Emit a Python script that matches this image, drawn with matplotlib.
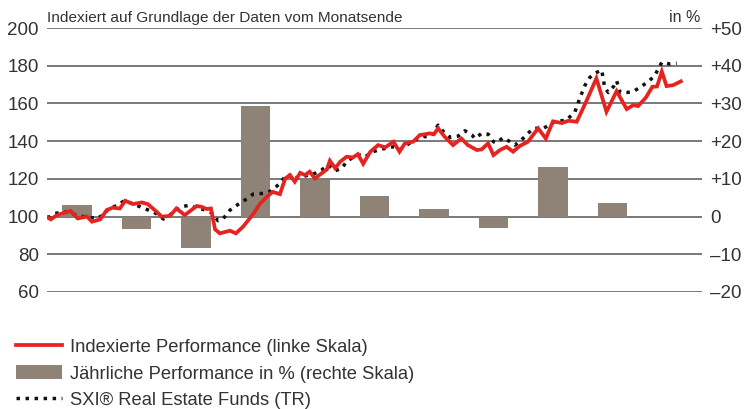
import matplotlib
matplotlib.use("Agg")
import matplotlib.pyplot as plt
from matplotlib.patches import Patch
from matplotlib.lines import Line2D

# indexed performance (left scale)
perf_x = [2006.00, 2006.06, 2006.14, 2006.25, 2006.39, 2006.51, 2006.67, 2006.75, 2006.89,
          2007.00, 2007.10, 2007.22, 2007.31, 2007.44, 2007.59, 2007.69, 2007.84, 2007.92,
          2008.06, 2008.17, 2008.31, 2008.40, 2008.51, 2008.59, 2008.68, 2008.75, 2008.82,
          2008.90, 2009.07, 2009.17, 2009.29, 2009.46, 2009.57, 2009.69, 2009.79, 2009.91,
          2010.00, 2010.08, 2010.16, 2010.25, 2010.33, 2010.41, 2010.50, 2010.61, 2010.70,
          2010.75, 2010.84, 2010.92, 2011.03, 2011.14, 2011.22, 2011.31, 2011.43, 2011.56,
          2011.68, 2011.82, 2011.92, 2012.01, 2012.15, 2012.26, 2012.43, 2012.50, 2012.57,
          2012.68, 2012.82, 2012.96, 2013.07, 2013.22, 2013.30, 2013.41, 2013.50, 2013.61,
          2013.72, 2013.83, 2013.94, 2014.08, 2014.25, 2014.38, 2014.50, 2014.65, 2014.76,
          2014.90, 2015.07, 2015.23, 2015.40, 2015.57, 2015.74, 2015.85, 2015.93, 2016.06,
          2016.17, 2016.25, 2016.33, 2016.41, 2016.52, 2016.65]
perf_y = [99.6, 98.5, 100.3, 101.7, 103.0, 99.0, 100.0, 97.3, 98.5,
          103.5, 104.7, 104.3, 108.4, 106.6, 107.5, 106.6, 102.5, 100.0,
          100.3, 104.3, 100.8, 102.9, 105.6, 105.2, 104.0, 104.3, 93.2,
          91.1, 92.5, 91.1, 94.6, 101.3, 106.6, 110.5, 113.1, 111.9,
          120.2, 122.0, 118.5, 123.2, 122.0, 123.8, 120.2, 122.9, 125.0,
          129.6, 125.6, 129.0, 131.7, 131.4, 133.1, 128.0, 134.4, 137.9,
          136.7, 139.7, 134.4, 138.8, 139.7, 143.2, 144.1, 143.7, 146.8,
          142.3, 137.9, 141.4, 137.9, 135.3, 135.6, 138.8, 132.6, 135.3,
          137.0, 134.4, 137.4, 139.7, 146.8, 141.4, 150.5, 149.6, 150.8,
          150.3, 161.8, 173.3, 155.6, 166.5, 157.0, 159.1, 158.6, 163.0,
          168.8, 169.0, 176.9, 169.2, 169.7, 171.7]

# SXI Real Estate Funds (TR)
sxi_x = [2006.00, 2006.05, 2006.13, 2006.33, 2006.50, 2006.83, 2006.94, 2007.05, 2007.17,
         2007.29, 2007.42, 2007.56, 2007.67, 2007.78, 2007.87, 2007.95, 2008.03, 2008.15,
         2008.26, 2008.40, 2008.51, 2008.62, 2008.76, 2008.87, 2008.96, 2009.07, 2009.19,
         2009.32, 2009.46, 2009.63, 2009.77, 2009.91, 2010.03, 2010.13, 2010.28, 2010.50,
         2010.61, 2010.72, 2010.84, 2010.95, 2011.03, 2011.15, 2011.26, 2011.34, 2011.48,
         2011.59, 2011.82, 2011.93, 2012.04, 2012.18, 2012.32, 2012.46, 2012.57, 2012.66,
         2012.77, 2012.91, 2013.02, 2013.14, 2013.19, 2013.30, 2013.41, 2013.50, 2013.55,
         2013.66, 2013.78, 2013.86, 2013.97, 2014.08, 2014.17, 2014.34, 2014.53, 2014.73,
         2014.87, 2014.96, 2015.04, 2015.12, 2015.21, 2015.32, 2015.37, 2015.43, 2015.52,
         2015.57, 2015.63, 2015.74, 2015.85, 2015.96, 2016.10, 2016.21, 2016.33, 2016.47,
         2016.58]
sxi_y = [99.5, 100.0, 101.7, 102.5, 100.5, 99.0, 100.8, 104.9, 105.6,
         108.4, 107.0, 105.2, 103.8, 102.5, 100.8, 98.7, 100.0, 103.1,
         105.2, 106.1, 104.3, 103.8, 102.0, 97.8, 99.0, 103.4, 106.1,
         108.7, 111.9, 112.3, 113.7, 117.6, 122.5, 120.2, 121.1, 122.9,
         124.7, 127.3, 124.3, 125.6, 129.1, 131.7, 132.6, 131.7, 134.4,
         135.6, 137.0, 135.6, 137.9, 140.6, 142.3, 142.7, 148.5, 145.0,
         142.0, 142.7, 145.5, 143.2, 141.4, 144.1, 143.7, 139.7, 139.1,
         141.8, 139.7, 137.9, 140.6, 144.1, 146.8, 146.8, 150.3, 151.2,
         155.6, 163.5, 169.7, 173.8, 176.1, 177.7, 168.5, 165.8, 169.0,
         172.0, 165.8, 165.8, 166.3, 168.5, 171.5, 174.7, 181.8, 180.9,
         181.3]

# yearly performance in % (right scale)
years = [2006, 2007, 2008, 2009, 2010, 2011, 2012, 2013, 2014, 2015]
yearly = [3.1, -3.2, -8.4, 29.3, 9.8, 5.4, 2.0, -3.1, 13.1, 3.6]

year_labels = [str(y) for y in range(2006, 2017)]
left_ticks = [60, 80, 100, 120, 140, 160, 180, 200]
right_ticks = [-20, -10, 0, 10, 20, 30, 40, 50]
right_labels = ["\u201320", "\u201310", "0", "+10", "+20", "+30", "+40", "+50"]

RED = "#e52421"
BAR = "#8f8377"
GRID = "#555555"
TXT = "#333333"

plt.rcParams["font.family"] = ["Liberation Sans", "DejaVu Sans"]

fig = plt.figure(figsize=(7.44, 4.09), dpi=100)
ax2 = fig.add_axes([0.0636, 0.2861, 0.8795, 0.6454])
ax = ax2.twinx()
ax.set_zorder(ax2.get_zorder() + 1)
ax.patch.set_visible(False)

ax2.bar([y + 0.5 for y in years], yearly, width=0.5, color=BAR, zorder=2)
ax2.set_ylim(-20, 50)
ax2.set_xlim(2006, 2017)
for t in right_ticks:
    ax2.axhline(t, color=GRID, lw=1.1, zorder=1)

ax.plot(sxi_x, sxi_y, color="#111111", lw=2.5, linestyle=(0, (1, 1.6)), zorder=3)
ax.plot(perf_x, perf_y, color=RED, lw=2.7, zorder=4, solid_joinstyle="miter")
ax.set_ylim(60, 200)

# left scale shown on the left, right scale (%) shown on the right
ax.yaxis.tick_left()
ax2.yaxis.tick_right()
ax.set_yticks(left_ticks)
ax.set_yticklabels([str(t) for t in left_ticks], fontsize=13.5, color=TXT)
ax2.set_yticks(right_ticks)
ax2.set_yticklabels(right_labels, fontsize=13.5, color=TXT)
ax2.set_xticks([y + 0.5 for y in range(2006, 2017)])
ax2.set_xticklabels(year_labels, fontsize=13, color=TXT)
for a in (ax, ax2):
    a.tick_params(length=0, pad=6)
    for s in a.spines.values():
        s.set_visible(False)
ax.set_xticks([])
ax2.tick_params(axis="x", pad=8)

fig.text(0.0636, 0.945, "Indexiert auf Grundlage der Daten vom Monatsende",
         fontsize=11.1, color=TXT)
fig.text(0.941, 0.945, "in %", fontsize=11.5, color=TXT, ha="right")

handles = [
    Line2D([], [], color=RED, lw=2.7),
    Patch(facecolor=BAR, edgecolor="none"),
    Line2D([], [], color="#111111", lw=2.5, linestyle=(0, (1, 1.6))),
]
labels = [
    "Indexierte Performance (linke Skala)",
    "J\u00e4hrliche Performance in % (rechte Skala)",
    "SXI\u00ae Real Estate Funds (TR)",
]
fig.legend(handles, labels, loc="upper left", bbox_to_anchor=(0.012, 0.19),
           frameon=False, handlelength=2.5, handleheight=0.8, handletextpad=0.45,
           labelspacing=0.5, borderaxespad=0,
           prop={"size": 13.2}, labelcolor=TXT)

fig.savefig("out.png", dpi=100)
